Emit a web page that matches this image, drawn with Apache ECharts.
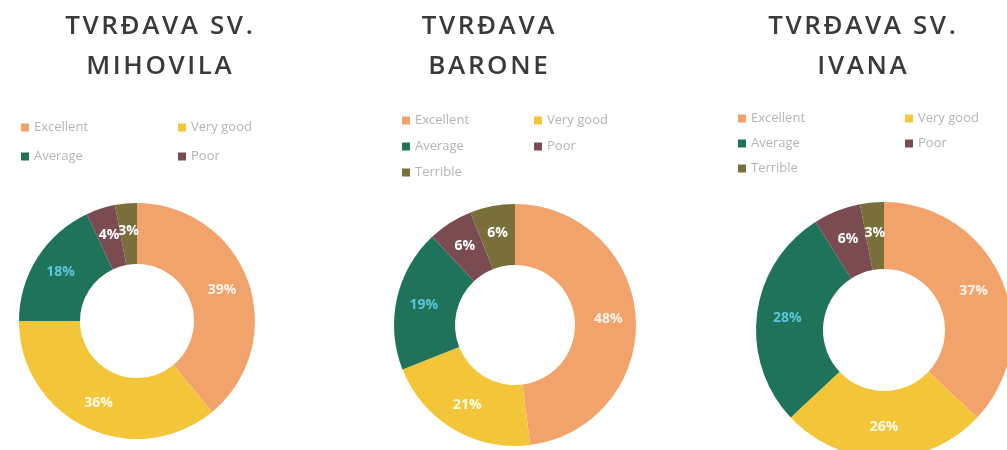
<!DOCTYPE html>
<html>
<head>
<meta charset="utf-8">
<script src="https://cdn.jsdelivr.net/npm/echarts@6/dist/echarts.min.js"></script>
<style>
  html, body { margin: 0; padding: 0; background: #fff; }
  #chart { width: 1007px; height: 450px; }
</style>
</head>
<body>
<div id="chart"></div>
<script>
// 数据
const ratings = ['Excellent', 'Very good', 'Average', 'Poor', 'Terrible'];
const titles = ['TVRĐAVA SV.\nMIHOVILA', 'TVRĐAVA\nBARONE', 'TVRĐAVA SV.\nIVANA'];
const mihovila = [39, 36, 18, 4, 3];
const barone = [48, 21, 19, 6, 6];
const ivana = [37, 26, 28, 6, 3];

const colors = ['#f2a36b', '#f3c63a', '#1f735a', '#7a4c52', '#786f3a'];
const labelColors = ['#fff4ea', '#fffbe8', '#5cc6dc', '#ffffff', '#ffffff'];

// 布局
const panels = [
    { values: mihovila, titleX: 154, center: [137, 321], radius: [57, 118],
      legendX: [16, 173], legendY: 116, legendGap: 16,
      legendLeft: ['Excellent', 'Average'], legendRight: ['Very good', 'Poor'] },
    { values: barone, titleX: 483, center: [515, 325], radius: [60, 121],
      legendX: [397, 529], legendY: 109, legendGap: 13,
      legendLeft: ['Excellent', 'Average', 'Terrible'], legendRight: ['Very good', 'Poor'] },
    { values: ivana, titleX: 857, center: [884, 330], radius: [61, 128],
      legendX: [733, 900], legendY: 107, legendGap: 12,
      legendLeft: ['Excellent', 'Average', 'Terrible'], legendRight: ['Very good', 'Poor'] }
];

// 标题字距较宽：字母之间插入极细空格
function spaced(text) {
    return text.split('\n').map(line => line.split('').join('\u200A')).join('\n');
}

const chart = echarts.init(document.getElementById('chart'));

const title = [];
const legend = [];
const series = [];

panels.forEach((p, i) => {
    title.push({
        text: spaced(titles[i]),
        left: p.titleX,
        top: 2,
        textAlign: 'center',
        textStyle: {
            fontFamily: 'Open Sans',
            fontSize: 26,
            fontWeight: 600,
            color: '#3a3a3a',
            lineHeight: 40
        }
    });

    [p.legendLeft, p.legendRight].forEach((names, k) => {
        legend.push({
            data: names,
            orient: 'vertical',
            left: p.legendX[k],
            top: p.legendY,
            itemWidth: 8,
            itemHeight: 8,
            itemGap: p.legendGap,
            icon: 'rect',
            selectedMode: false,
            textStyle: { fontFamily: 'Open Sans', fontSize: 13, color: '#b4b4b4' }
        });
    });

    series.push({
        type: 'pie',
        center: p.center,
        radius: p.radius,
        startAngle: 90,
        clockwise: true,
        avoidLabelOverlap: false,
        silent: true,
        labelLayout: { hideOverlap: false },
        data: ratings.map((name, j) => ({
            name,
            value: p.values[j],
            itemStyle: { color: colors[j] },
            label: { color: labelColors[j] }
        })),
        label: {
            show: true,
            position: 'inside',
            formatter: '{c}%',
            fontFamily: 'Open Sans',
            fontSize: 14,
            fontWeight: 'bold'
        },
        labelLine: { show: false },
        itemStyle: { borderWidth: 0 }
    });
});

chart.setOption({
    backgroundColor: '#ffffff',
    animation: false,
    title,
    legend,
    series
});
</script>
</body>
</html>
